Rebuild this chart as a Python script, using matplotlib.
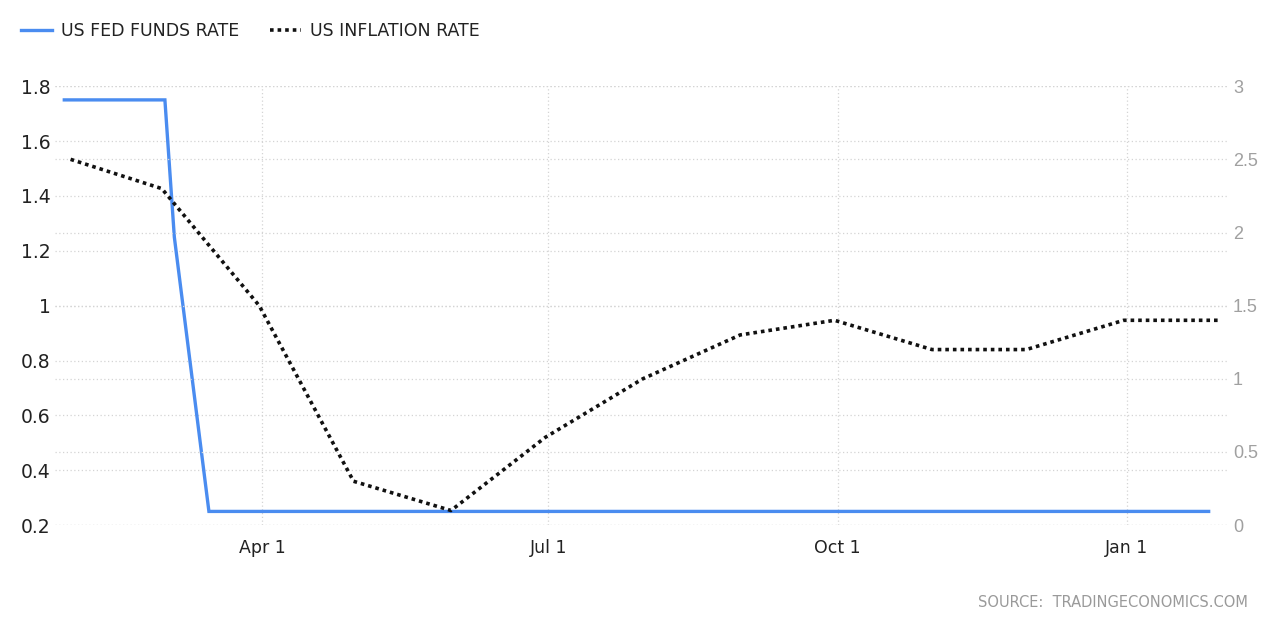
import pandas as pd
import matplotlib.pyplot as plt
import matplotlib.dates as mdates

# === Données ===
fed_dates = ["2020-01-29", "2020-03-01", "2020-03-04", "2020-03-15", "2020-04-29",
             "2020-06-10", "2020-07-29", "2020-09-16", "2020-11-05", "2020-12-16",
             "2021-01-27"]
fed_rate = [1.75, 1.75, 1.25, 0.25, 0.25, 0.25, 0.25, 0.25, 0.25, 0.25, 0.25]

cpi_dates = ["2020-01-31", "2020-02-29", "2020-03-31", "2020-04-30", "2020-05-31",
             "2020-06-30", "2020-07-31", "2020-08-31", "2020-09-30", "2020-10-31",
             "2020-11-30", "2020-12-31", "2021-01-31"]
cpi_rate = [2.5, 2.3, 1.5, 0.3, 0.1, 0.6, 1.0, 1.3, 1.4, 1.2, 1.2, 1.4, 1.4]

x_ticks = ["2020-04-01", "2020-07-01", "2020-10-01", "2021-01-01"]
x_labels = ["Apr 1", "Jul 1", "Oct 1", "Jan 1"]
left_ticks = [0.2, 0.4, 0.6, 0.8, 1.0, 1.2, 1.4, 1.6, 1.8]
left_labels = ["0.2", "0.4", "0.6", "0.8", "1", "1.2", "1.4", "1.6", "1.8"]
right_ticks = [0, 0.5, 1, 1.5, 2, 2.5, 3]
right_labels = ["0", "0.5", "1", "1.5", "2", "2.5", "3"]

fed_dates = pd.to_datetime(fed_dates)
cpi_dates = pd.to_datetime(cpi_dates)
x_ticks = pd.to_datetime(x_ticks)

plt.rcParams['font.family'] = ['DejaVu Sans']
grid_kw = dict(color='#d4d4d4', linestyle=(0, (1, 2)), linewidth=0.9)

fig = plt.figure(figsize=(12.76, 6.2), dpi=100)
ax = fig.add_axes([0.043, 0.153, 0.919, 0.708])
ax2 = ax.twinx()

# Grilles
ax.set_zorder(2)
ax.patch.set_visible(False)
ax2.set_zorder(1)
ax2.grid(axis='y', **grid_kw)
ax.grid(axis='y', **grid_kw)
ax.grid(axis='x', **grid_kw)

# Courbes
l1, = ax.plot(fed_dates, fed_rate, color='#4a8cf0', linewidth=2.4,
              solid_joinstyle='miter', label="US FED FUNDS RATE")
l2, = ax2.plot(cpi_dates, cpi_rate, color='#111111', linewidth=2.6,
               linestyle=(0, (1, 1.1)), label="US INFLATION RATE")
ax2.set_zorder(3)
ax2.patch.set_visible(False)

ax.set_xlim(pd.Timestamp("2020-01-26"), pd.Timestamp("2021-02-02"))
ax.set_ylim(0.2, 1.8)
ax2.set_ylim(0, 3)

ax.set_xticks(x_ticks)
ax.set_xticklabels(x_labels, fontsize=12.5, color='#222222')
ax.set_yticks(left_ticks)
ax.set_yticklabels(left_labels, fontsize=13.5, color='#222222')
ax2.set_yticks(right_ticks)
ax2.set_yticklabels(right_labels, fontsize=13, color='#a0a0a0',
                    family=['Liberation Sans Narrow', 'Liberation Sans', 'DejaVu Sans'])

ax.tick_params(axis='x', length=0, pad=10)
ax.tick_params(axis='y', length=0, pad=3)
ax2.tick_params(axis='y', length=0, pad=4)

for a in (ax, ax2):
    for s in a.spines.values():
        s.set_visible(False)

# Légende
fig.legend(handles=[l1, l2], loc='upper left', bbox_to_anchor=(0.004, 0.99),
           ncol=2, frameon=False, fontsize=12.5, handlelength=1.8,
           handletextpad=0.5, columnspacing=1.8, labelcolor='#222222')

fig.text(0.978, 0.028, "SOURCE:  TRADINGECONOMICS.COM", ha='right', va='center',
         fontsize=10.5, color='#9a9a9a')

fig.savefig("out.png", dpi=100)
